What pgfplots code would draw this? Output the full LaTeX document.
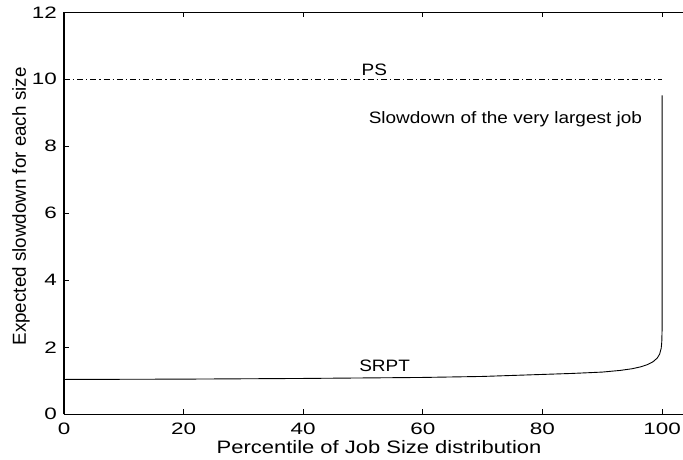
\documentclass[border=0pt]{standalone}
\usepackage{pgfplots}
\pgfplotsset{compat=1.18}
\usepackage{fontspec}
\setmainfont{Liberation Sans}

\begin{document}
\begin{tikzpicture}
  \begin{axis}[
      name=ax,
      scale only axis,
      width=619pt,
      height=402pt,
      xmin=0, xmax=103.5,
      ymin=0, ymax=12,
      axis x line*=box,
      axis y line*=left,
      axis line style={-, line width=1.1pt},
      tick align=inside,
      major tick length=5pt,
      tick style={black, line width=0.9pt},
      xtick={0,20,...,100},
      ytick={0,2,...,12},
      /pgf/number format/assume math mode=true,
      tick label style={font=\fontsize{16.5pt}{19pt}\selectfont, inner sep=0pt},
      xticklabel style={xscale=1.36, yshift=-8pt},
      yticklabel style={xscale=1.36, xshift=-5pt},
      xlabel={Percentile of Job Size distribution},
      ylabel={Expected slowdown for each size},
      xlabel style={at={(axis description cs:0.509,0)}, anchor=base,
        yshift=-39pt, inner sep=0pt, xscale=1.22,
        font=\fontsize{18pt}{21pt}\selectfont},
      ylabel style={at={(axis description cs:-0.0695,0.517)}, anchor=center,
        inner sep=0pt, font=\fontsize{18.8pt}{22pt}\selectfont},
      clip=false,
    ]
    % PS: constant slowdown 1/(1-rho)
    \addplot[black, line width=0.8pt, dash pattern=on 6pt off 3pt on 1.2pt off 3pt]
      coordinates {(0,10) (100,10)};
    % SRPT
    \addplot[black, line width=0.9pt] coordinates {
      (0,1.04) (10,1.045) (20,1.05) (30,1.06) (40,1.07) (50,1.085)
      (60,1.10) (70,1.13) (80,1.19) (85,1.22) (90,1.26) (93,1.31)
      (95,1.36) (96.5,1.42) (97.5,1.48) (98.5,1.57) (99.2,1.68)
      (99.6,1.80) (99.85,1.97) (99.95,2.15) (100,2.5) (100,9.52)
    };
    \node[anchor=base, inner sep=0pt, xscale=1.15, font=\fontsize{16.5pt}{19pt}\selectfont]
      at (axis cs:51.9,10.12) {PS};
    \node[anchor=base, inner sep=0pt, xscale=1.15, font=\fontsize{16.5pt}{19pt}\selectfont]
      at (axis cs:73.8,8.69) {Slowdown of the very largest job};
    \node[anchor=base, inner sep=0pt, xscale=1.15, font=\fontsize{16.5pt}{19pt}\selectfont]
      at (axis cs:53.6,1.29) {SRPT};
  \end{axis}
  \pgfresetboundingbox
  \path[use as bounding box] ([xshift=-64pt,yshift=-45pt]ax.south west)
    rectangle ([yshift=12.3pt]ax.north east);
\end{tikzpicture}
\end{document}
